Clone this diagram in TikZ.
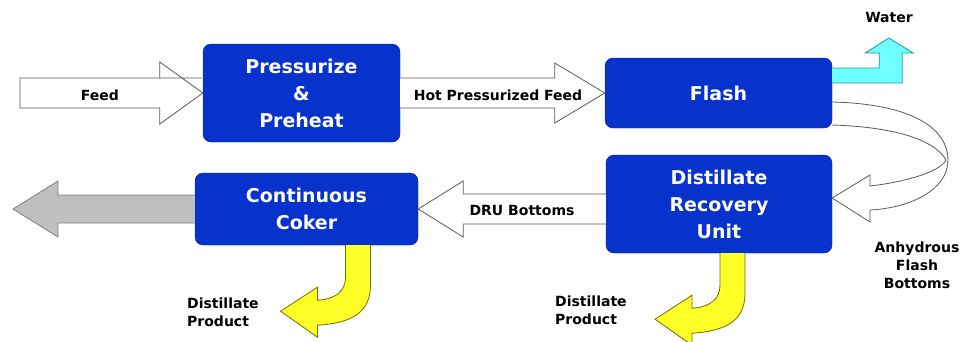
\documentclass[tikz,border=0pt]{standalone}
\usepackage{fontspec}
\setmainfont{DejaVu Sans}
\usetikzlibrary{calc}

\definecolor{unitblue}{RGB}{8,50,204}
\definecolor{unitedge}{RGB}{0,30,150}
\definecolor{waterfill}{RGB}{110,255,255}
\definecolor{wateredge}{RGB}{40,150,160}
\definecolor{prodfill}{RGB}{255,255,40}
\definecolor{prodedge}{RGB}{110,110,0}

\begin{document}
\begin{tikzpicture}[
        x=1pt, y=-1pt,
        unit/.style={draw=unitedge, fill=unitblue, rounded corners=8pt,
            text=white, align=center, inner sep=0pt,
            font=\bfseries\fontsize{19}{27}\selectfont},
        lbl/.style={font=\bfseries\fontsize{14}{18}\selectfont, inner sep=0pt},
        flow/.style={draw=black!65, fill=white, line width=0.8pt, line join=miter},
        outflow/.style={draw=black!50, fill=black!25, line width=0.8pt, line join=miter},
        water/.style={draw=wateredge, fill=waterfill, line width=0.8pt, line join=miter},
        product/.style={draw=prodedge, fill=prodfill, line width=0.8pt, line join=miter},
        distarrow/.pic={
            \path[product] (25,0) -- (25,40) .. controls (25,68) and (5,78) .. (-28,80)
                -- (-28,92) -- (-65,66) -- (-28,42) -- (-28,55)
                .. controls (-10,54) and (0,46) .. (0,32) -- (0,0);
        },
    ]
    \useasboundingbox (0,0) rectangle (974,341);

    % process units
    \node[unit, minimum width=197pt, minimum height=98pt] (press) at (301.5,93)
        {Pressurize\\\&\\Preheat};
    \node[unit, minimum width=227pt, minimum height=70pt] (flash) at (718.5,93) {Flash};
    \node[unit, minimum width=226pt, minimum height=98pt] (dru) at (719,204)
        {Distillate\\Recovery\\Unit};
    \node[unit, minimum width=223pt, minimum height=72pt] (coker) at (306.5,209)
        {Continuous\\Coker};

    % feed in
    \coordinate (feedin) at (20,93);
    \draw[flow] ($(press.west)+(-1,-15)$) -- ($(press.west)+(-43,-15)$)
        -- ($(press.west)+(-43,-31)$) -- (press.west) -- ($(press.west)+(-43,31)$)
        -- ($(press.west)+(-43,15)$) -- ($(feedin)+(0,15)$) -- ($(feedin)+(0,-15)$)
        -- cycle;
    \node[lbl] (feedlbl) at (100,95) {Feed};

    % hot feed to flash
    \path[flow] ($(press.east)+(0,15)$) -- ($(flash.west)+(-50,15)$)
        -- ($(flash.west)+(-50,30)$) -- (flash.west) -- ($(flash.west)+(-50,-30)$)
        -- ($(flash.west)+(-50,-15)$) -- ($(press.east)+(0,-15)$);
    \node[lbl] (hotlbl) at (498,95) {Hot Pressurized Feed};

    % water off the top
    \coordinate (waterup) at (889,38);
    \path[water] ($(flash.east)+(0,-10)$) -- ($(flash.east)+(70,-10)$)
        -- ($(flash.east)+(70,-40)$) -- ($(flash.east)+(81,-40)$) -- (waterup)
        -- ($(flash.east)+(33,-40)$) -- ($(flash.east)+(47,-40)$)
        -- ($(flash.east)+(47,-25)$) -- ($(flash.east)+(0,-25)$);
    \node[lbl] (waterlbl) at (889,17) {Water};

    % flash bottoms round to the DRU
    \coordinate (flashbot) at ($(dru.east)+(0,-6)$);
    \draw[black!65, line width=0.8pt, line join=miter] ($(flash.east)+(0,9)$)
        .. controls (915,104) and (948,130) .. (948,160)
        .. controls (948,190) and (910,208) .. (870,210)
        -- (870,222) -- (flashbot) -- (870,175) -- (870,186)
        .. controls (905,182) and (940,172) .. (946,160)
        .. controls (935,140) and (895,127) .. ($(flash.east)+(0,32)$);
    \node[lbl, align=center] (anhlbl) at (917,265) {Anhydrous\\Flash\\Bottoms};

    % DRU bottoms to the coker
    \path[flow] ($(dru.west|-coker.east)+(0,-15)$) -- ($(coker.east)+(45,-15)$)
        -- ($(coker.east)+(45,-28)$) -- (coker.east) -- ($(coker.east)+(45,28)$)
        -- ($(coker.east)+(45,15)$) -- ($(dru.west|-coker.east)+(0,15)$);
    \node[lbl] (drulbl) at (522,210) {DRU Bottoms};

    % coke out
    \coordinate (cokeout) at (13,209);
    \path[outflow] ($(coker.west)+(0,-14)$) -- ($(cokeout)+(45,-14)$)
        -- ($(cokeout)+(45,-28)$) -- (cokeout) -- ($(cokeout)+(45,28)$)
        -- ($(cokeout)+(45,14)$) -- ($(coker.west)+(0,14)$);

    % distillate products
    \pic at ($(coker.south)+(39,0)$) {distarrow};
    \pic at ($(dru.south)+(1,0)$) {distarrow};
    \node[lbl, align=left, anchor=west] (cokprod) at (187,312) {Distillate\\Product};
    \node[lbl, align=left, anchor=west] (druprod) at (555,310) {Distillate\\Product};
\end{tikzpicture}
\end{document}
